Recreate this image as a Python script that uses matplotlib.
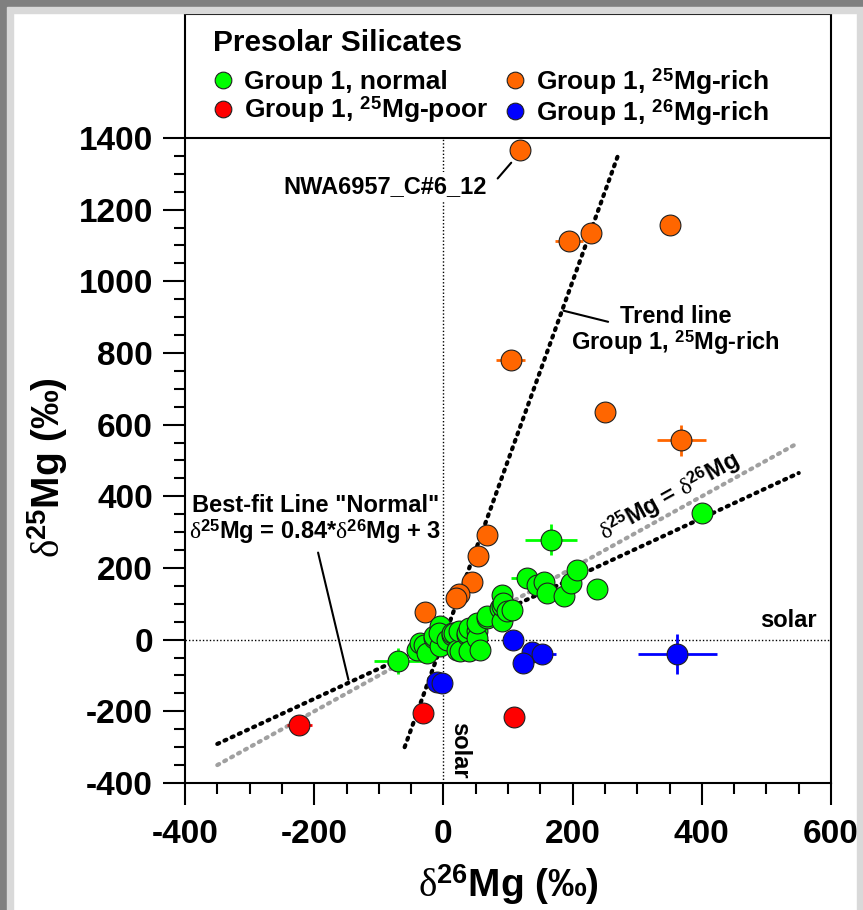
import matplotlib
matplotlib.use('Agg')
import matplotlib.pyplot as plt
import numpy as np
from matplotlib.lines import Line2D
from matplotlib.patches import Rectangle

plt.rcParams['font.family'] = ['Liberation Sans', 'DejaVu Sans']
plt.rcParams['font.weight'] = 'normal'
plt.rcParams['axes.unicode_minus'] = False
plt.rcParams['mathtext.fontset'] = 'custom'
plt.rcParams['mathtext.rm'] = 'Liberation Serif:weight=normal'
plt.rcParams['mathtext.it'] = 'Liberation Serif:weight=normal'
plt.rcParams['mathtext.bf'] = 'Liberation Sans:weight=bold'

# ---------------- data ----------------
normal_x = [-70, -41, -36, -30, -25, -15, -15, -5, -5, -7, 6, 13, 13, 16, 21, 24, 26, 37, 37, 39, 39,
            52, 52, 52, 57, 68, 68, 88, 91, 91, 91, 93, 99, 106, 130, 145, 155, 160, 187, 197, 207,
            238, 400, 167]
normal_y = [-60, -28, -9, -14, -37, 5, 9, -19, 37, 19, 0, 14, 19, 19, -28, 23, -33, 14, 19, -33, 33,
            23, 5, 47, -28, 60, 65, 88, 51, 93, 126, 102, 79, 84, 172, 153, 160, 130, 123, 158, 195,
            140, 354, 279]
normal_xerr = [37, 0, 0, 0, 0, 0, 0, 0, 0, 0, 0, 0, 0, 0, 0, 0, 0, 0, 0, 0, 0,
               0, 0, 0, 0, 0, 0, 0, 0, 0, 0, 0, 0, 0, 26, 0, 0, 0, 0, 0, 0,
               0, 0, 40]
normal_yerr = [36, 0, 0, 0, 0, 0, 0, 0, 0, 0, 0, 0, 0, 0, 0, 0, 0, 0, 0, 0, 0,
               0, 0, 0, 0, 0, 0, 0, 0, 0, 0, 0, 0, 0, 0, 0, 0, 0, 0, 0, 0,
               0, 0, 43]

rich25_x = [119, 194, 229, 350, 104, 250, 368, 68, 54, 45, 24, 19, -29]
rich25_y = [1366, 1112, 1135, 1158, 781, 634, 556, 293, 234, 162, 128, 116, 76]
rich25_xerr = [0, 22, 0, 0, 22, 0, 38, 0, 0, 0, 0, 0, 0]
rich25_yerr = [0, 0, 0, 0, 0, 0, 43, 0, 0, 0, 0, 0, 0]

poor25_x = [-223, -31, 110]
poor25_y = [-239, -204, -216]
poor25_xerr = [19, 0, 0]
poor25_yerr = [0, 0, 0]

rich26_x = [-10, -2, 108, 137, 152, 123, 362]
rich26_y = [-119, -121, -2, -34, -40, -65, -40]
rich26_xerr = [0, 0, 0, 0, 22, 0, 61]
rich26_yerr = [0, 0, 0, 0, 0, 0, 57]

fit_slope, fit_intercept = 0.84, 3
line_x = [-350, 550]
trend_slope = 5.0
trend_x = [-60, 270]

x_ticks = [-400, -200, 0, 200, 400, 600]
y_ticks = [-400, -200, 0, 200, 400, 600, 800, 1000, 1200, 1400]

legend_title = 'Presolar Silicates'
legend_labels = ['Group 1, normal', 'Group 1, $^{\\mathbf{25}}$Mg-poor',
                 'Group 1, $^{\\mathbf{25}}$Mg-rich', 'Group 1, $^{\\mathbf{26}}$Mg-rich']

C_GREEN, C_ORANGE, C_RED, C_BLUE = '#00FF00', '#FF6600', '#FF0000', '#0000FF'

# ---------------- figure ----------------
W, H = 863, 910
fig = plt.figure(figsize=(W / 100, H / 100), dpi=100)
fig.patch.set_facecolor('white')
# window border
fig.patches.append(Rectangle((0, 1 - 7 / H), 1, 7 / H, transform=fig.transFigure, color='#808080', zorder=0))
fig.patches.append(Rectangle((0, 0), 7 / W, 1, transform=fig.transFigure, color='#808080', zorder=0))
fig.patches.append(Rectangle((7 / W, 1 - 13 / H), 1, 6 / H, transform=fig.transFigure, color='#D9D9D9', zorder=0))
fig.patches.append(Rectangle((7 / W, 0), 6 / W, 1 - 13 / H, transform=fig.transFigure, color='#D9D9D9', zorder=0))
fig.patches.append(Rectangle((857 / W, 0), 6 / W, 1 - 13 / H, transform=fig.transFigure, color='#D9D9D9', zorder=0))

ax = fig.add_axes([185 / W, 1 - 783 / H, (831 - 185) / W, (783 - 14) / H])
ax.set_xlim(-400, 600)
ax.set_ylim(-400, 1746)

for s in ax.spines.values():
    s.set_linewidth(1.5)

ax.set_xticks(x_ticks)
ax.set_xticks(np.arange(-400, 601, 50), minor=True)
ax.set_yticks(y_ticks)
ax.set_yticks(np.arange(-400, 1401, 50), minor=True)
ax.tick_params(which='major', direction='out', length=16, width=1.5, labelsize=24, pad=7)
ax.tick_params(axis='x', which='major', pad=10)
ax.tick_params(which='minor', direction='out', length=8, width=1.5)
for lab in ax.get_xticklabels() + ax.get_yticklabels():
    lab.set_fontweight('bold')

ax.set_xlabel(r'$\mathrm{δ}^{\mathbf{26}}\mathbf{Mg\ (‰)}$', fontsize=28, labelpad=9)
ax.set_ylabel(r'$\mathrm{δ}^{\mathbf{25}}\mathbf{Mg\ (‰)}$', fontsize=28)
ax.yaxis.set_label_coords(-0.178, 0.41)

# legend separator
ax.axhline(1400, color='black', lw=1.5, zorder=5)

# solar lines
ax.plot([0, 0], [-400, 1400], color='black', lw=1, ls=(0, (1, 1.5)), zorder=1)
ax.axhline(0, color='black', lw=1, ls=(0, (1, 1.5)), zorder=1)

# reference lines
lx = np.array(line_x, dtype=float)
ax.plot(lx, lx, color='#A0A0A0', lw=3, ls=(0, (0.5, 1.4)), dash_capstyle='round', zorder=2)
ax.plot(lx, fit_slope * lx + fit_intercept, color='black', lw=3, ls=(0, (0.5, 1.4)),
        dash_capstyle='round', zorder=2)
tx = np.array(trend_x, dtype=float)
ax.plot(tx, trend_slope * tx, color='black', lw=3, ls=(0, (0.5, 1.4)), dash_capstyle='round', zorder=2)

MS = 15


def draw(xs, ys, xe, ye, color, z):
    ax.errorbar(xs, ys, xerr=xe, yerr=ye, fmt='none', ecolor=color, elinewidth=2, capsize=0, zorder=z)
    ax.plot(xs, ys, 'o', ms=MS, mfc=color, mec='#202020', mew=0.8, ls='none', zorder=z + 0.5)


draw(rich25_x, rich25_y, rich25_xerr, rich25_yerr, C_ORANGE, 3)
draw(normal_x, normal_y, normal_xerr, normal_yerr, C_GREEN, 4)
draw(rich26_x, rich26_y, rich26_xerr, rich26_yerr, C_BLUE, 5)
draw(poor25_x, poor25_y, poor25_xerr, poor25_yerr, C_RED, 5)

# annotations
LEAD = dict(arrowstyle='-', color='black', lw=1.5, shrinkA=0, shrinkB=0)
ax.text(-90, 1264, 'NWA6957_C#6_12', fontsize=17, fontweight='bold', ha='center', va='center',
        zorder=6, bbox=dict(facecolor='white', edgecolor='none', pad=2))
ax.annotate('', xy=(105, 1331), xytext=(84, 1287), arrowprops=LEAD, zorder=6)

ax.text(359, 862, 'Trend line\nGroup 1, $^{\\mathbf{25}}$Mg-rich', fontsize=17, fontweight='bold',
        ha='center', va='center', multialignment='center', linespacing=1.0, zorder=6)
ax.annotate('', xy=(186, 918), xytext=(255, 887), arrowprops=LEAD, zorder=6)

ax.text(-198, 335, 'Best-fit Line "Normal"\n' + r'$\mathrm{δ}^{\mathbf{25}}$Mg = 0.84*$\mathrm{δ}^{\mathbf{26}}$Mg + 3',
        fontsize=17, fontweight='bold', ha='center', va='center', multialignment='center',
        linespacing=1.0, zorder=6)
ax.annotate('', xy=(-147, -112), xytext=(-194, 243), arrowprops=LEAD, zorder=6)

ax.text(350, 400, r'$\mathrm{δ}^{\mathbf{25}}$Mg = $\mathrm{δ}^{\mathbf{26}}$Mg', fontsize=17,
        fontweight='bold', rotation=45, transform_rotates_text=True, rotation_mode='anchor',
        ha='center', va='center', zorder=6)
ax.text(534, 53, 'solar', fontsize=17, fontweight='bold', ha='center', va='center', zorder=6)
ax.text(25, -310, 'solar', fontsize=17, fontweight='bold', ha='center', va='center', rotation=-90, zorder=6)

# legend
fig.text(213 / W, 1 - 43 / H, legend_title, fontsize=21.5, fontweight='bold', ha='left', va='center')
handles = [
    Line2D([], [], marker='o', ls='none', ms=12, mfc=C_GREEN, mec='#202020', mew=0.8),
    Line2D([], [], marker='o', ls='none', ms=12, mfc=C_RED, mec='#202020', mew=0.8),
    Line2D([], [], marker='o', ls='none', ms=12, mfc=C_ORANGE, mec='#202020', mew=0.8),
    Line2D([], [], marker='o', ls='none', ms=12, mfc=C_BLUE, mec='#202020', mew=0.8),
]
leg = ax.legend(handles, [legend_labels[0], legend_labels[1], legend_labels[2], legend_labels[3]],
                ncol=2, loc='upper left', bbox_to_anchor=(210 / W, 1 - 66 / H),
                bbox_transform=fig.transFigure,
                frameon=False, prop={'size': 19, 'weight': 'bold'},
                handlelength=1.0, handletextpad=0.3, columnspacing=0.5, labelspacing=0.0,
                borderaxespad=0.0, borderpad=0.0)

fig.savefig('out.png', dpi=100)
